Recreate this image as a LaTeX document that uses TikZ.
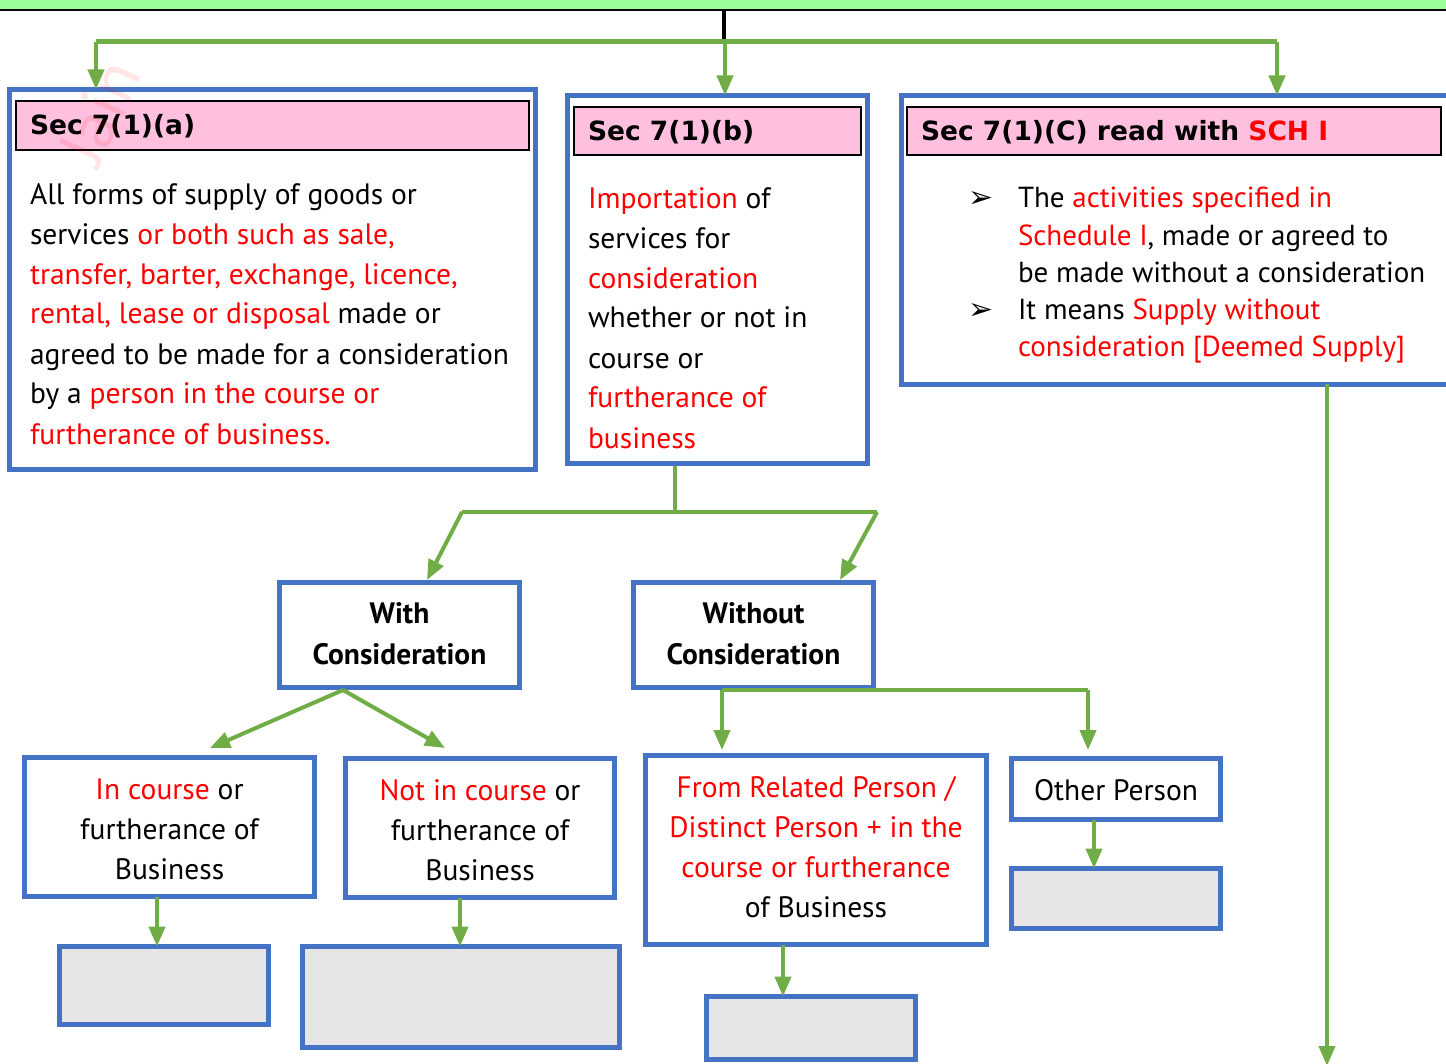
\documentclass[tikz,border=0pt]{standalone}
\usepackage{fontspec}
\setmainfont{PT Sans}
\newfontfamily\dvfont{DejaVu Sans}
\usetikzlibrary{arrows.meta}
\definecolor{myblue}{HTML}{4472C4}
\definecolor{mygreen}{HTML}{70AD47}
\definecolor{mypink}{HTML}{FFBFDF}
\definecolor{topgreen}{HTML}{99FF99}
\definecolor{mygray}{HTML}{E6E6E6}
\definecolor{myred}{HTML}{FF0000}
\newcommand{\rd}[1]{\textcolor{myred}{#1}}
\tikzset{
  bluebox/.style={draw=myblue, line width=5pt, fill=white, inner sep=0pt, outer sep=0pt},
  graybox/.style={bluebox, fill=mygray},
  hdr/.style={draw=black, line width=2pt, fill=mypink, inner sep=0pt, outer sep=0pt},
  ltxt/.style={inner sep=0pt, outer sep=0pt, anchor=north west, align=left, font=\fontsize{29.5}{40}\selectfont},
  ctxt/.style={inner sep=0pt, outer sep=0pt, anchor=north, align=center, font=\fontsize{29.5}{40}\selectfont},
  ctxtb/.style={ctxt, font=\fontsize{29.5}{41}\selectfont\bfseries},
  htxt/.style={inner sep=0pt, outer sep=0pt, anchor=base west, font=\dvfont\fontsize{26.5}{32}\selectfont\bfseries},
  bul/.style={inner sep=0pt, anchor=base west, font=\dvfont\fontsize{30}{34}\selectfont},
  gline/.style={draw=mygreen, line width=4pt},
  garrow/.style={gline, -{Triangle[length=20pt,width=16pt]}},
}
\begin{document}
\begin{tikzpicture}[x=1pt,y=-1pt]
\useasboundingbox (0,0) rectangle (1446,1064);
\fill[white] (0,0) rectangle (1446,1064);
% top bar
\fill[topgreen] (0,-5) rectangle (1446,10);
\draw[black, line width=2.5pt] (0,10) -- (1446,10);
\coordinate (top) at (724,10);
\coordinate (topj) at (724,42);
\draw[black, line width=4pt] (top) -- (topj);
\coordinate (jl) at (96,42);
\coordinate (jr) at (1277,42);
\draw[gline, line width=5pt] (jl) -- (jr);

% main boxes
\node[bluebox, minimum width=526pt, minimum height=380pt] (A) at (272.5,279.5) {};
\node[bluebox, minimum width=300pt, minimum height=368pt] (B) at (717.5,279.5) {};
\node[bluebox, minimum width=548pt, minimum height=289pt] (C) at (1175.5,240) {};
\node[hdr, minimum width=513pt, minimum height=49pt] (HA) at (272.5,125.5) {};
\node[hdr, minimum width=287pt, minimum height=48pt] (HB) at (717.5,131) {};
\node[hdr, minimum width=534pt, minimum height=48pt] (HC) at (1174,131) {};

\node[htxt] (tHA) at (30,135) {Sec 7(1)(a)};
\node[htxt] (tHB) at (588,141) {Sec 7(1)(b)};
\node[htxt] (tHC) at (921,141) {Sec 7(1)(C) read with \rd{SCH I}};

\node[ltxt] (tA) at (30,176) {\strut All forms of supply of goods or\\
\strut services \rd{or both such as sale,}\\
\strut \rd{transfer, barter, exchange, licence,}\\
\strut \rd{rental, lease or disposal} made or\\
\strut agreed to be made for a consideration\\
\strut by a \rd{person in the course or}\\
\strut \rd{furtherance of business.}};

\node[ltxt] (tB) at (588,180) {\strut \rd{Importation} of\\
\strut services for\\
\strut \rd{consideration}\\
\strut whether or not in\\
\strut course or\\
\strut \rd{furtherance of}\\
\strut \rd{business}};

\node[ltxt, font=\fontsize{29}{37.25}\selectfont] (tC) at (1018,181.9) {\strut The \rd{activities specified in}\\
\strut \rd{Schedule I}, made or agreed to\\
\strut be made without a consideration\\
\strut It means \rd{Supply without}\\
\strut \rd{consideration [Deemed Supply]}};
\node[bul] (b1) at (968,208) {➢};
\node[bul] (b2) at (968,320) {➢};

% consideration boxes
\node[bluebox, minimum width=240pt, minimum height=105pt] (W) at (399.5,635) {};
\node[bluebox, minimum width=240pt, minimum height=105pt] (WO) at (753.5,635) {};
\node[ctxtb] (tW) at (399.5,595) {\strut With\\ \strut Consideration};
\node[ctxtb] (tWO) at (753.5,595) {\strut Without\\ \strut Consideration};

% bottom boxes
\node[bluebox, minimum width=290pt, minimum height=139pt] (IC) at (169.5,827) {};
\node[bluebox, minimum width=269pt, minimum height=139pt] (NIC) at (480,828) {};
\node[bluebox, minimum width=341pt, minimum height=189pt] (FR) at (816,850) {};
\node[bluebox, minimum width=209pt, minimum height=61pt] (OP) at (1116,789) {};
\node[ctxt] (tIC) at (169.5,771) {\strut \rd{In course} or\\ \strut furtherance of\\ \strut Business};
\node[ctxt] (tNIC) at (480,772) {\strut \rd{Not in course} or\\ \strut furtherance of\\ \strut Business};
\node[ctxt] (tFR) at (816,769) {\strut \rd{From Related Person /}\\ \strut \rd{Distinct Person + in the}\\ \strut \rd{course or furtherance}\\ \strut of Business};
\node[ctxt] (tOP) at (1116,772) {\strut Other Person};

\node[graybox, minimum width=209pt, minimum height=78pt] (G1) at (164,985.5) {};
\node[graybox, minimum width=317pt, minimum height=101pt] (G2) at (461,997) {};
\node[graybox, minimum width=209pt, minimum height=63pt] (G3) at (811,1028) {};
\node[graybox, minimum width=209pt, minimum height=60pt] (G4) at (1116,898.5) {};

% top arrows
\draw[garrow] (jl) -- (jl |- A.north);
\coordinate (jm) at (725,42);
\draw[garrow] (jm) -- (jm |- B.north);
\draw[garrow] (jr) -- (jr |- C.north);

% from B
\coordinate (bs) at (675,466);
\coordinate (bj) at (675,512);
\coordinate (bjl) at (462,512);
\coordinate (bjr) at (877,512);
\draw[gline] (bs) -- (bj);
\draw[gline] (bjl) -- (bjr);
\coordinate (wt) at (427,580);
\coordinate (wot) at (840,580);
\draw[garrow] (bjl) -- (wt);
\draw[garrow] (bjr) -- (wot);

% from With
\coordinate (wb) at (343,690);
\coordinate (icT) at (210,748);
\coordinate (nicT) at (445,748);
\draw[garrow] (wb) -- (icT);
\draw[garrow] (wb) -- (nicT);

% from Without
\coordinate (wob) at (722,690);
\coordinate (wobr) at (1088,690);
\coordinate (frT) at (722,750);
\coordinate (opT) at (1088,750);
\draw[gline] (wob) -- (wobr);
\draw[garrow] (wob) -- (frT);
\draw[garrow] (wobr) -- (opT);

% to gray boxes
\coordinate (x1) at (157,0);
\coordinate (x2) at (460,0);
\coordinate (x3) at (783,0);
\coordinate (x4) at (1094,0);
\draw[garrow] (x1 |- IC.south) -- (x1 |- G1.north);
\draw[garrow] (x2 |- NIC.south) -- (x2 |- G2.north);
\draw[garrow] (x3 |- FR.south) -- (x3 |- G3.north);
\draw[garrow] (x4 |- OP.south) -- (x4 |- G4.north);

% long arrow from C
\coordinate (cx) at (1327,0);
\coordinate (cend) at (1327,1066);
\draw[garrow] (cx |- C.south) -- (cend);

% watermark
\node[rotate=65, text=red, opacity=0.1, font=\fontsize{66}{66}\selectfont, inner sep=0pt] (wm) at (100,112) {Jain};
\end{tikzpicture}
\end{document}
